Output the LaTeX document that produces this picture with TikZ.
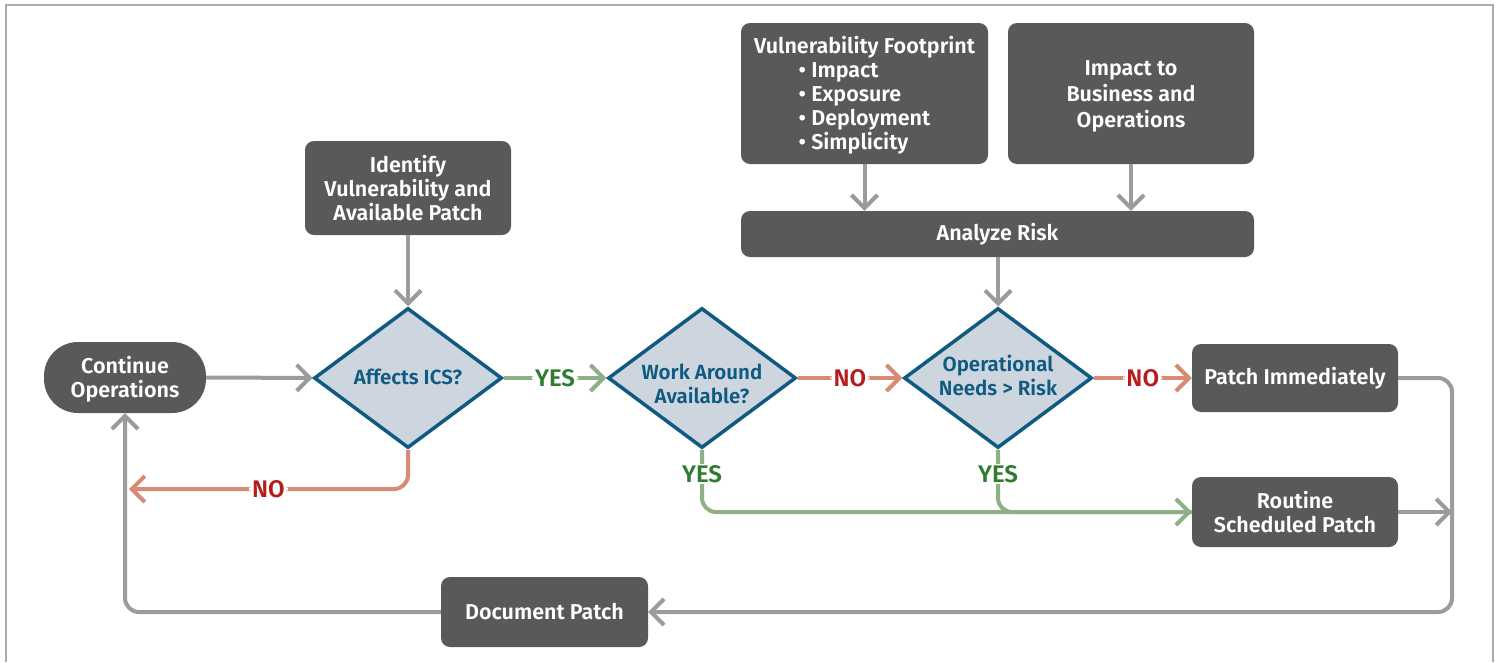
\documentclass[tikz,border=0pt]{standalone}
\usepackage{fontspec}
\setmainfont{Fira Sans}[BoldFont={Fira Sans SemiBold}]
\usetikzlibrary{arrows.meta,shapes.geometric}
\definecolor{boxgray}{HTML}{58595B}
\definecolor{dfill}{HTML}{CDD5DF}
\definecolor{dblue}{HTML}{0E5A80}
\definecolor{agray}{HTML}{9A9B9D}
\definecolor{aorange}{HTML}{D98A72}
\definecolor{agreen}{HTML}{8FB085}
\definecolor{nored}{HTML}{B71C1C}
\definecolor{yesgreen}{HTML}{2E7D32}
\definecolor{framegray}{HTML}{ABABAB}
\tikzset{
  txt/.style={font=\bfseries\fontsize{21.5}{24}\selectfont},
  box/.style={txt, fill=boxgray, rounded corners=9pt, text=white, align=center, inner sep=0pt},
  boxtext/.style={txt, text=white, align=center, inner sep=0pt},
  dec/.style={diamond, draw=dblue, line width=3.5pt, fill=dfill, text=dblue, align=center,
    font=\bfseries\fontsize{20.5}{24}\selectfont,
    minimum width=188pt, minimum height=140pt, inner sep=0pt, shape aspect=1.34},
  dectext/.style={font=\bfseries\fontsize{20.5}{24}\selectfont, text=dblue, align=center, inner sep=0pt},
  tip/.style={-{Straight Barb[length=13pt,width=26pt,line width=4pt]}},
  conn/.style={line width=4pt, rounded corners=14pt},
  garrow/.style={conn, draw=agray, tip},
  oarrow/.style={conn, draw=aorange, tip},
  yarrow/.style={conn, draw=agreen, tip},
  lab/.style={fill=white, inner xsep=3pt, inner ysep=1pt, font=\bfseries\fontsize{24}{26}\selectfont},
  nolab/.style={lab, text=nored},
  yeslab/.style={lab, text=yesgreen},
}
\begin{document}
\begin{tikzpicture}[x=1pt,y=-1pt]
\useasboundingbox (0,0) rectangle (1499,662);
\draw[framegray, line width=1.5pt] (6,662) -- (6,5) -- (1493,5) -- (1493,662);

% nodes
\node[box, minimum width=206pt, minimum height=94pt] (ident) at (408,188) {Identify\\Vulnerability and\\Available Patch};
\node[box, minimum width=247pt, minimum height=141pt,
  label={[boxtext, yshift=-3pt]center:{Vulnerability Footprint\\\begin{tabular}[t]{@{}l@{}}• Impact\\• Exposure\\• Deployment\\• Simplicity\end{tabular}}}] (vuln) at (864.5,93.5) {};
\node[box, minimum width=246pt, minimum height=141pt,
  label={[boxtext, font=\bfseries\fontsize{21.5}{26}\selectfont, yshift=-2.5pt]center:{Impact to\\Business and\\Operations}}] (impact) at (1131,93.5) {};
\node[box, minimum width=513pt, minimum height=46pt] (analyze) at (997.5,234) {Analyze Risk};
\node[box, rounded corners=34pt, minimum width=162pt, minimum height=71pt,
  label={[boxtext, yshift=-2pt]center:{Continue\\Operations}}] (cont) at (125,377.5) {};
\node[dec, label={[dectext, yshift=1.5pt]center:{Affects ICS?}}] (aff) at (408,378) {};
\node[dec, label={[dectext, yshift=-6pt]center:{Work Around\\Available?}}] (work) at (702,378) {};
\node[dec, label={[dectext, yshift=3pt]center:{Operational\\Needs > Risk}}] (ops) at (998,378) {};
\node[box, minimum width=206pt, minimum height=68pt] (patch) at (1295,378) {Patch Immediately};
\node[box, minimum width=206pt, minimum height=70pt] (routine) at (1295,512) {Routine\\Scheduled Patch};
\node[box, minimum width=207pt, minimum height=70pt] (doc) at (544.5,612) {Document Patch};

\coordinate (noend) at (129,489);
\coordinate (rcol) at (1452,0);

% connectors
\draw[garrow] (ident) -- (aff);
\draw[garrow] (cont) -- (aff);
\draw[garrow] (vuln) -- (vuln |- analyze.north);
\draw[garrow] (impact) -- (impact |- analyze.north);
\draw[garrow] (ops |- analyze.south) -- (ops);
\draw[yarrow] (aff) -- node[yeslab]{YES} (work);
\draw[oarrow] (work) -- node[nolab]{NO} (ops);
\draw[oarrow] (ops) -- node[nolab]{NO} (patch);
\draw[oarrow] (aff.south) |- node[nolab, pos=0.75]{NO} (noend);
\draw[garrow] (doc.west) -| (cont.south);
\draw[conn, draw=agreen] (ops.south) |- (routine.west);
\draw[yarrow] (work.south) |- (routine.west);
\node[yeslab] (yes2) at (702,474) {YES};
\node[yeslab] (yes3) at (998,474) {YES};
\draw[garrow] (patch.east) -| (rcol |- doc.east) -- (doc.east);
\draw[garrow] (routine.east) -- (rcol |- routine.east);
\end{tikzpicture}
\end{document}
